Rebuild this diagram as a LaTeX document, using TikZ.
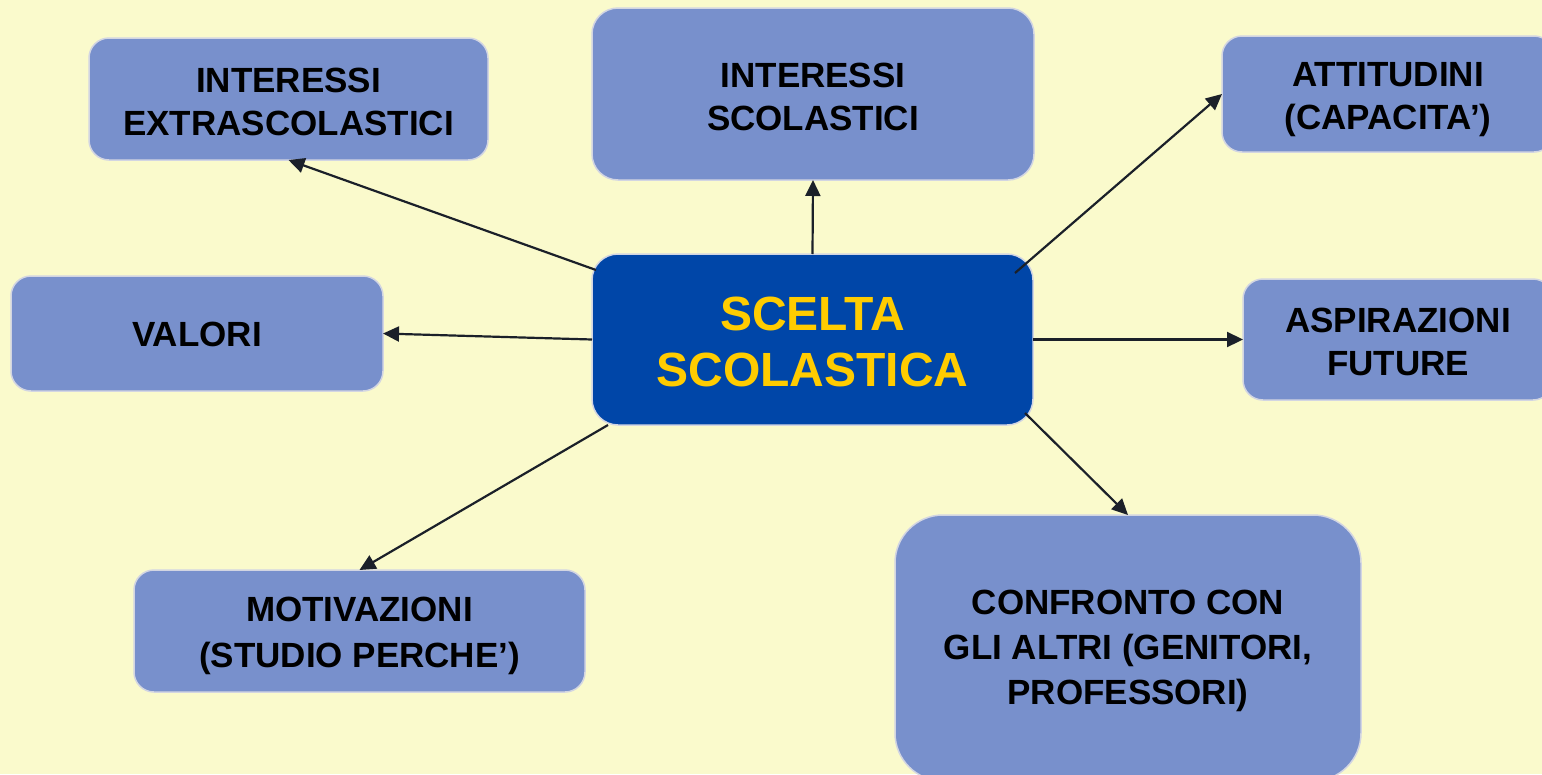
\documentclass[tikz,border=0pt]{standalone}
\usepackage{fontspec}
\setmainfont{Liberation Sans}
\usetikzlibrary{arrows.meta,calc}
\definecolor{bg}{HTML}{FAFACC}
\definecolor{boxc}{HTML}{7890CC}
\definecolor{centc}{HTML}{0046A8}
\definecolor{gold}{HTML}{FFCC00}
\definecolor{edgec}{HTML}{D2D5E2}
\definecolor{arr}{HTML}{1B2029}
% lower the text of a node by #1 (first line caps height 25pt / 34pt)
\newcommand\dwn[1]{\rule{0pt}{\dimexpr 25pt+2\dimexpr #1\relax\relax}}
\newcommand\dwnc[1]{\rule{0pt}{\dimexpr 34.5pt+2\dimexpr #1\relax\relax}}
\begin{document}
\begin{tikzpicture}[x=1pt,y=-1pt,
  box/.style={draw=edgec, line width=1.5pt, fill=boxc, rounded corners=20pt,
    inner sep=0pt, outer sep=0pt, align=center,
    font=\fontsize{35}{43}\selectfont\bfseries, text=black},
  centbox/.style={box, fill=centc, rounded corners=26pt, text=gold,
    font=\fontsize{48}{56}\selectfont\bfseries},
  conn/.style={draw=arr, line width=2.2pt, -{Triangle[length=16pt,width=15pt]}}]
\fill[bg] (0,0) rectangle (1542,774);
\useasboundingbox (0,0) rectangle (1542,774);
\clip (0,0) rectangle (1542,774);
\node[box, minimum width=399pt, minimum height=122pt] (e) at (288.5,99) {\dwn{3pt}INTERESSI\\EXTRASCOLASTICI};
\node[box, minimum width=442pt, minimum height=172pt, rounded corners=26pt] (s) at (813,94) {\dwn{3pt}INTERESSI\\SCOLASTICI};
\node[box, minimum width=332pt, minimum height=116pt] (a) at (1388,94) {\dwn{5pt}ATTITUDINI\\(CAPACITA’)};
\node[box, minimum width=372pt, minimum height=115pt] (v) at (197,333.5) {\dwn{1pt}VALORI};
\node[centbox, minimum width=441pt, minimum height=171pt] (c) at (812.5,339.5) {\dwnc{2pt}SCELTA\\SCOLASTICA};
\node[box, minimum width=310pt, minimum height=121pt] (asp) at (1398,339.5) {\dwn{2.5pt}ASPIRAZIONI\\FUTURE};
\node[box, minimum width=451pt, minimum height=122pt, font=\fontsize{35}{46}\selectfont\bfseries] (m) at (359.5,631) {\dwn{4.5pt}MOTIVAZIONI\\(STUDIO PERCHE’)};
\node[box, minimum width=466pt, minimum height=266pt, rounded corners=48pt, font=\fontsize{35}{45}\selectfont\bfseries] (cf) at (1128,648) {\dwn{3pt}CONFRONTO CON\\GLI ALTRI (GENITORI,\\PROFESSORI)};
\coordinate (c1) at ($(c.north west)+(4,16)$);
\coordinate (c2) at ($(c.north east)+(-18,19)$);
\coordinate (c3) at ($(c.south west)+(16,0)$);
\coordinate (c4) at ($(c.south east)+(-8,-12)$);
\draw[conn] (c1) -- (e.south);
\draw[conn] (c.north) -- (s.south);
\draw[conn] (c2) -- (a.west);
\draw[conn] (c.west) -- (v.east);
\draw[conn] (c.east) -- (asp.west);
\draw[conn] (c3) -- (m.north);
\draw[conn] (c4) -- (cf.north);
\end{tikzpicture}
\end{document}
